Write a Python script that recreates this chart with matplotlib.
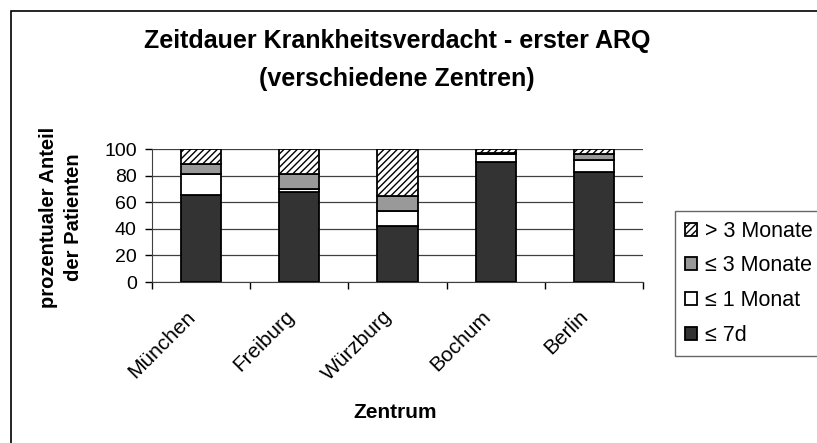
import numpy as np
import matplotlib
matplotlib.use('Agg')
import matplotlib.pyplot as plt
import matplotlib.transforms as mtransforms
from matplotlib.patches import Rectangle

plt.rcParams['font.family'] = ['Liberation Sans', 'DejaVu Sans']
plt.rcParams['hatch.color'] = '#808080'
plt.rcParams['hatch.linewidth'] = 1.0

# data (percent of patients)
zentren = ['München', 'Freiburg', 'Würzburg', 'Bochum', 'Berlin']
bis_7d = [65.5, 68, 42, 90, 83]
bis_1_monat = [15.5, 2, 11.5, 6, 9]
bis_3_monate = [7.5, 11, 11.5, 1, 4]
ueber_3_monate = [11.5, 19, 35, 3, 4]
labels = ['≤ 7d', '≤ 1 Monat', '≤ 3 Monate', '> 3 Monate']

fig = plt.figure(figsize=(8.17, 4.43), dpi=100)
ax = fig.add_axes([0.186, 0.3634, 0.601, 0.3002])

x = np.arange(len(zentren))
w = 0.41
series = [bis_7d, bis_1_monat, bis_3_monate, ueber_3_monate]
faces = ['#333333', 'white', '#999999', 'white']
hatches = [None, None, None, '/////']
bottom = np.zeros(len(zentren))
handles = []
for vals, fc, h, lab in zip(series, faces, hatches, labels):
    b = ax.bar(x, vals, w, bottom=bottom, color=fc, edgecolor='black',
               linewidth=1.3, hatch=h, label=lab, zorder=3)
    handles.append(b)
    bottom += np.array(vals)

ax.set_ylim(0, 100)
ax.set_xlim(-0.5, len(zentren) - 0.5)
ax.set_yticks([0, 20, 40, 60, 80, 100])
ax.yaxis.grid(True, color='#404040', linewidth=0.9, zorder=0)
ax.set_axisbelow(True)
ax.tick_params(axis='y', labelsize=14, length=5, width=1, pad=6, direction='out')

# ticks between categories
ax.set_xticks(np.arange(-0.5, len(zentren)), minor=False)
ax.set_xticklabels([])
ax.set_xticks(x, minor=True)
ax.set_xticklabels(zentren, minor=True, rotation=45, ha='right',
                   rotation_mode='anchor', fontsize=15)
ax.tick_params(axis='x', which='minor', length=0, pad=18)
ax.tick_params(axis='x', which='major', length=5, width=1, direction='out')
shift = mtransforms.ScaledTranslation(-0.15, 0, fig.dpi_scale_trans)
for t in ax.get_xticklabels(minor=True):
    t.set_transform(t.get_transform() + shift)

for s in ['top', 'right']:
    ax.spines[s].set_visible(False)
ax.spines['left'].set_color('#404040')
ax.spines['bottom'].set_color('#404040')

fig.text(0.486, 1 - 41 / 443, 'Zeitdauer Krankheitsverdacht - erster ARQ',
         ha='center', va='center', fontsize=18, fontweight='bold')
fig.text(0.486, 1 - 79 / 443, '(verschiedene Zentren)',
         ha='center', va='center', fontsize=18, fontweight='bold')
fig.text(61 / 817, 1 - 217 / 443, 'prozentualer Anteil\nder Patienten',
         rotation=90, ha='center', va='center', fontsize=14.5,
         fontweight='bold', multialignment='center', linespacing=1.4)
fig.text(395 / 817, 1 - 413 / 443, 'Zentrum', ha='center', va='center',
         fontsize=15, fontweight='bold')

leg = fig.legend(handles[::-1], labels[::-1], loc='upper left',
                 bbox_to_anchor=(675 / 817, 1 - 211 / 443), fontsize=15.5,
                 frameon=True, fancybox=False, handlelength=0.55,
                 handleheight=0.55, handletextpad=0.4, labelspacing=0.64,
                 borderpad=0.45, borderaxespad=0)
leg.get_frame().set_edgecolor('#404040')
leg.get_frame().set_linewidth(1)

# outer chart frame (cut off at right and bottom)
fig.patches.append(Rectangle((11 / 817, -0.1), 1.2, 1 - 11 / 443 + 0.1,
                             transform=fig.transFigure, fill=False,
                             edgecolor='black', linewidth=1.2))

fig.savefig('out.png', dpi=100)
